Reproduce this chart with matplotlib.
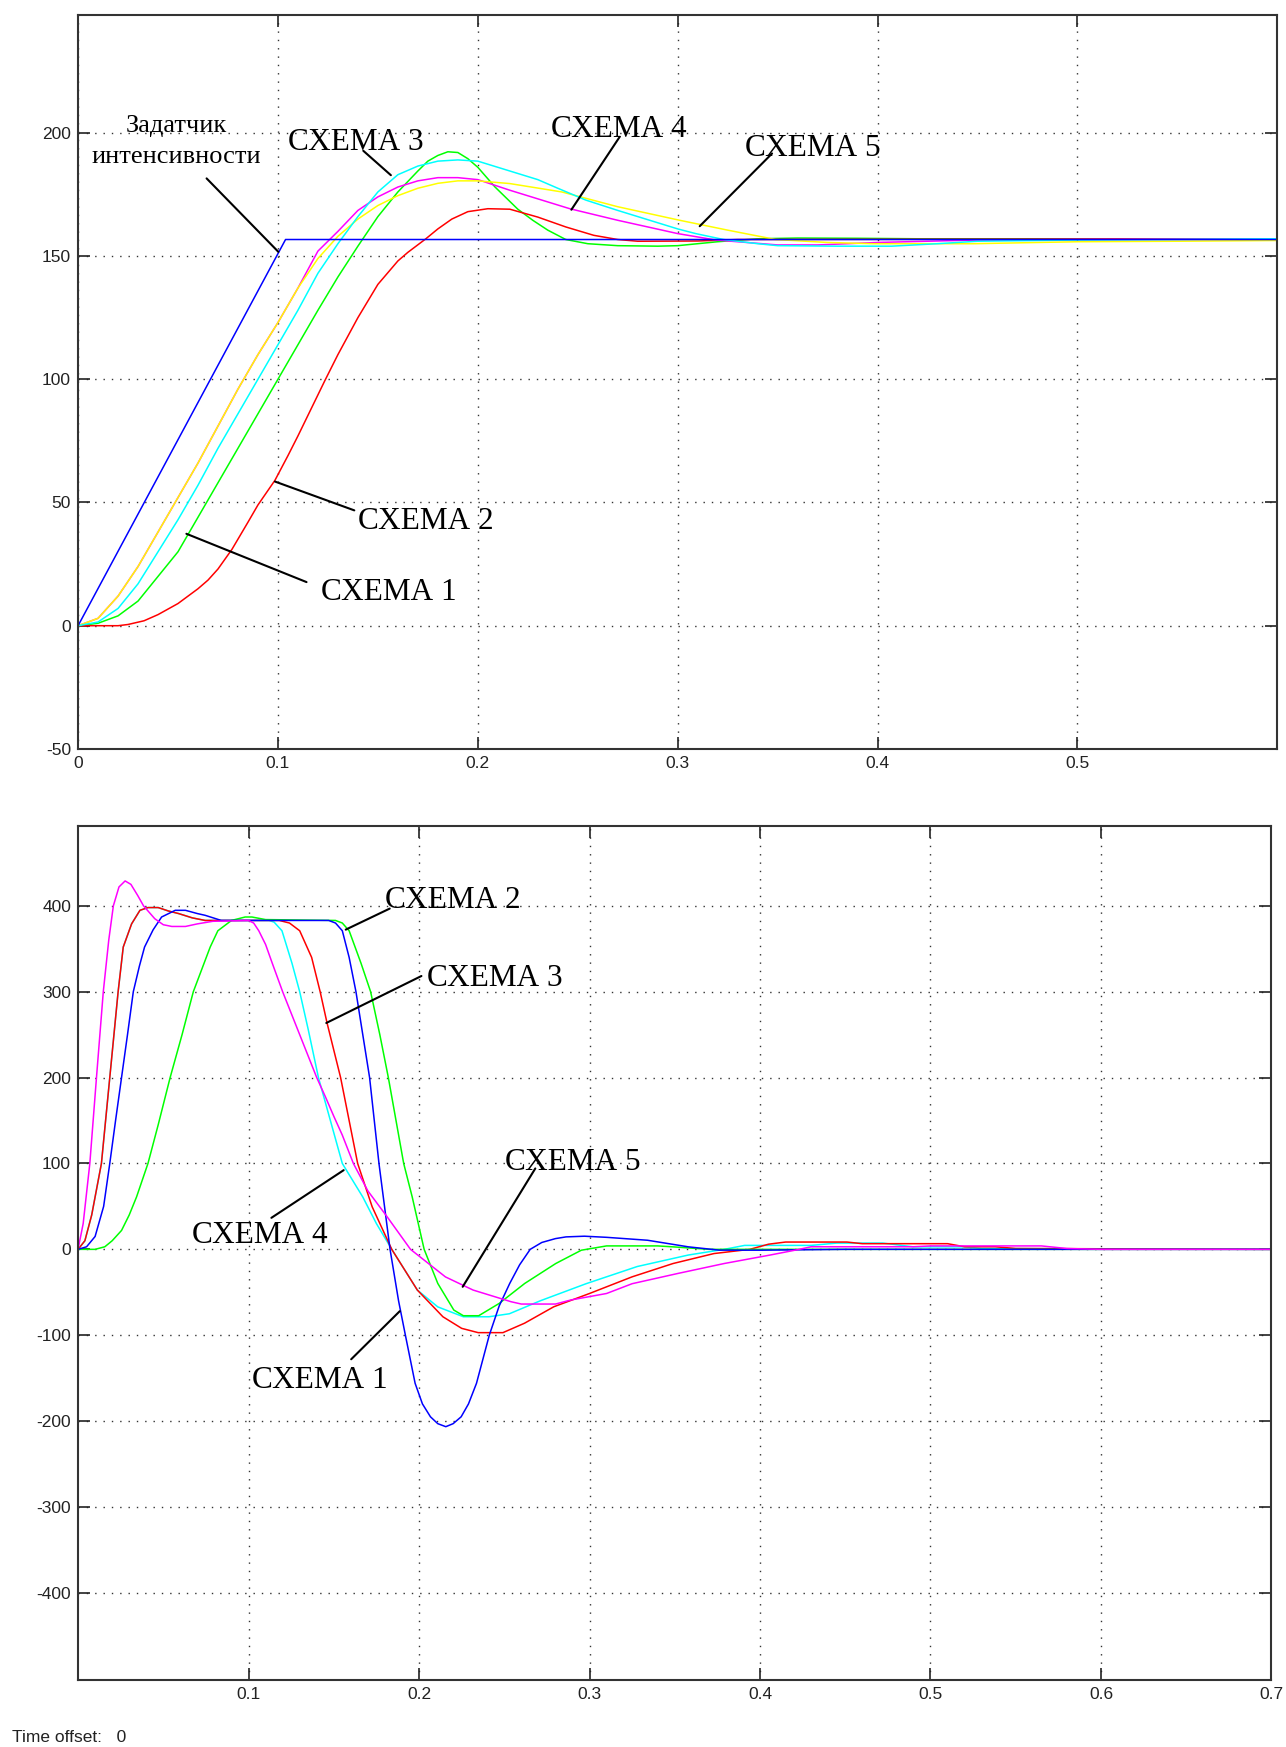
import numpy as np
import matplotlib.pyplot as plt

plt.rcParams['font.family'] = ['Liberation Sans', 'DejaVu Sans']
plt.rcParams['axes.unicode_minus'] = False

# ---- top plot: speed response ----
t_ref = [0, 0.1038, 0.6]
v_ref = [0, 156.7, 156.7]

t_y1 = [0, 0.01, 0.02, 0.03, 0.04, 0.05, 0.06, 0.07, 0.08, 0.09, 0.10, 0.11, 0.12, 0.13, 0.14,
        0.15, 0.16, 0.17, 0.18, 0.19, 0.20, 0.216, 0.242, 0.27, 0.301, 0.325, 0.349, 0.375,
        0.398, 0.448, 0.50, 0.55, 0.60]
v_y1 = [0, 3, 12, 24, 38, 52, 66, 81, 96, 110, 123, 137, 149, 158, 165, 170.5, 174.5, 177.5,
        179.5, 180.5, 180.5, 179.4, 176, 170, 164.5, 160.5, 156.7, 155.5, 155, 155, 155.8, 156, 156.3]

t_c1 = [0, 0.01, 0.02, 0.03, 0.04, 0.05, 0.06, 0.07, 0.08, 0.09, 0.10, 0.11, 0.12, 0.13, 0.14,
        0.15, 0.16, 0.17, 0.18, 0.19, 0.20, 0.21, 0.22, 0.23, 0.24, 0.254, 0.27, 0.286, 0.30,
        0.309, 0.323, 0.34, 0.35, 0.38, 0.407, 0.43, 0.45, 0.50, 0.60]
v_c1 = [0, 1.5, 7, 17, 30, 43, 57, 72, 86, 100, 114, 128, 143, 155, 166, 176, 183, 186.5, 188.5,
        189, 188.5, 186, 183.5, 181, 177.5, 172.7, 168.5, 164.5, 161, 159.1, 156.7, 155, 154.2,
        154, 154, 155, 156, 156.5, 157]

t_m1 = [0, 0.01, 0.02, 0.03, 0.04, 0.05, 0.06, 0.07, 0.08, 0.09, 0.10, 0.11, 0.12, 0.13, 0.14,
        0.15, 0.16, 0.17, 0.18, 0.19, 0.20, 0.216, 0.246, 0.27, 0.30, 0.319, 0.35, 0.37, 0.40,
        0.45, 0.50, 0.60]
v_m1 = [0, 3, 12, 24, 38, 52, 66, 81, 96, 110, 123, 137, 152, 160, 168.5, 174, 178, 180.5,
        181.8, 181.8, 181, 176.7, 169.2, 164.5, 159.1, 156.5, 154.5, 154.5, 155.5, 156.5, 156.7, 157]

t_g1 = [0, 0.01, 0.02, 0.03, 0.04, 0.05, 0.055, 0.06, 0.07, 0.08, 0.09, 0.10, 0.11, 0.12, 0.13,
        0.14, 0.15, 0.16, 0.17, 0.175, 0.18, 0.185, 0.19, 0.195, 0.20, 0.2086, 0.22, 0.2275,
        0.235, 0.244, 0.255, 0.27, 0.29, 0.30, 0.32, 0.34, 0.36, 0.39, 0.42, 0.60]
v_g1 = [0, 1, 4, 10, 20, 30, 37, 44, 58, 72, 86, 100, 114, 128, 141.5, 154, 166, 176, 184.5,
        188.5, 190.8, 192.3, 192, 189.5, 186, 178, 169, 164.5, 160.5, 156.7, 155, 154.2, 154,
        154.2, 155.8, 157, 157.3, 157.2, 157, 157]

t_r1 = [0, 0.02, 0.025, 0.033, 0.04, 0.05, 0.06, 0.065, 0.07, 0.077, 0.085, 0.09, 0.0985,
        0.105, 0.11, 0.1235, 0.13, 0.14, 0.15, 0.16, 0.165, 0.174, 0.18, 0.187, 0.195, 0.205,
        0.216, 0.23, 0.244, 0.258, 0.27, 0.28, 0.31, 0.33, 0.60]
v_r1 = [0, 0, 0.5, 2, 4.5, 9, 15, 18.5, 23, 31, 42, 49, 59, 69, 77, 99.5, 110, 125, 138.5,
        148, 151.5, 157, 161, 165, 168, 169.2, 169, 165.8, 161.8, 158.4, 156.7, 156, 156.1,
        156.7, 157]

# ---- bottom plot: torque response ----
t_b2 = [0, 0.005, 0.01, 0.015, 0.0186, 0.022, 0.0255, 0.029, 0.0324, 0.036, 0.039, 0.044,
        0.049, 0.057, 0.063, 0.07, 0.0745, 0.084, 0.10, 0.147, 0.151, 0.155, 0.159, 0.163,
        0.167, 0.171, 0.1765, 0.183, 0.188, 0.192, 0.1977, 0.202, 0.2067, 0.211, 0.2157, 0.220,
        0.2247, 0.229, 0.2337, 0.2412, 0.247, 0.2532, 0.259, 0.2652, 0.272, 0.28, 0.2862,
        0.297, 0.31, 0.334, 0.358, 0.376, 0.40, 0.45, 0.70]
v_b2 = [0, 3, 15, 50, 100, 150, 200, 250, 300, 330, 352, 372, 387, 394.8, 394.8, 391, 389,
        383, 383, 383, 380, 371, 340, 300, 250, 200, 100, 0, -60, -100, -156, -180, -195, -203,
        -206.5, -203, -195, -180, -156, -100, -66, -39.7, -18, 0, 8, 12.5, 14.5, 15.3, 14, 10.6,
        2.9, -0.9, -1, 0, 0]

t_c2 = [0, 0.004, 0.008, 0.0137, 0.0186, 0.0235, 0.0265, 0.0314, 0.0363, 0.041, 0.047, 0.053,
        0.059, 0.067, 0.0745, 0.112, 0.115, 0.1196, 0.1255, 0.130, 0.135, 0.141, 0.148, 0.155,
        0.167, 0.175, 0.184, 0.199, 0.211, 0.226, 0.241, 0.253, 0.271, 0.298, 0.328, 0.358,
        0.379, 0.391, 0.43, 0.445, 0.472, 0.49, 0.52, 0.53, 0.70]
v_c2 = [0, 10, 40, 100, 200, 300, 352, 379, 394.8, 398, 398, 394, 391, 386, 383, 383, 381,
        371, 333, 300, 256, 200, 150, 100, 61, 30, 0, -47.4, -67, -78.5, -78.5, -75, -60, -40,
        -20, -6.6, 0, 4.6, 4.6, 7.3, 7.3, 2.9, 2.9, 1, 0]

t_r2 = [0, 0.004, 0.008, 0.0137, 0.0186, 0.0235, 0.0265, 0.0314, 0.0363, 0.041, 0.047, 0.053,
        0.059, 0.067, 0.0745, 0.118, 0.124, 0.130, 0.137, 0.142, 0.146, 0.154, 0.164, 0.1725,
        0.184, 0.199, 0.214, 0.225, 0.2347, 0.2492, 0.2619, 0.279, 0.300, 0.325, 0.349, 0.373,
        0.394, 0.405, 0.415, 0.451, 0.46, 0.51, 0.52, 0.538, 0.55, 0.70]
v_r2 = [0, 10, 40, 100, 200, 300, 352, 379, 394.8, 398, 398, 394, 391, 386, 383, 383, 380,
        371, 340, 300, 264, 200, 100, 49.6, 0, -47.4, -78.5, -92, -97, -97, -86, -66.9, -51.4,
        -32, -16.5, -4.9, 0, 6, 8.5, 8.5, 6.6, 6.6, 3, 3, 1, 0]

t_m2 = [0, 0.003, 0.0069, 0.0108, 0.0148, 0.018, 0.0207, 0.024, 0.0276, 0.031, 0.035, 0.0384,
        0.045, 0.05, 0.055, 0.063, 0.07, 0.079, 0.10, 0.103, 0.106, 0.110, 0.114, 0.120, 0.130,
        0.140, 0.145, 0.150, 0.155, 0.1615, 0.170, 0.181, 0.195, 0.2155, 0.2317, 0.254, 0.26,
        0.28, 0.289, 0.31, 0.325, 0.352, 0.379, 0.406, 0.421, 0.43, 0.49, 0.50, 0.565, 0.58,
        0.60, 0.70]
v_m2 = [0, 30, 100, 200, 300, 360, 400, 422, 429, 425, 412, 400, 385, 378, 376, 376, 379, 382,
        383, 380, 371, 355, 332.7, 300, 250, 200, 178, 155, 133, 100, 68, 38.7, 0, -32.1, -47.4,
        -61, -63.7, -63.7, -59, -51.4, -40, -28, -16.5, -6.6, -0.8, 3, 3, 4, 4, 1, 0, 0]

t_g2 = [0, 0.01, 0.0157, 0.02, 0.0255, 0.03, 0.0343, 0.041, 0.047, 0.054, 0.061, 0.0676,
        0.0775, 0.082, 0.090, 0.098, 0.102, 0.11, 0.151, 0.155, 0.159, 0.166, 0.1716, 0.177,
        0.182, 0.191, 0.196, 0.203, 0.211, 0.2204, 0.226, 0.235, 0.247, 0.262, 0.2802, 0.2952,
        0.31, 0.34, 0.349, 0.37, 0.70]
v_g2 = [0, 0, 3, 10, 22, 40, 61, 100, 145, 200, 250, 300, 352, 371, 383, 387, 387, 384, 383,
        380, 371, 333, 300, 250, 200, 100, 61, 0, -39.7, -70.7, -77.3, -77.3, -63, -39.7, -16.5,
        -1, 4, 4, 2.9, 0, 0]

# labels: (text, text x, text y, leader from, leader to)
top_labels = [
    ('СХЕМА 3', 0.1048, 192.95, (0.1427, 192.7), (0.1565, 182.8)),
    ('СХЕМА 4', 0.2367, 198.4, (0.2710, 198.4), (0.2468, 168.8)),
    ('СХЕМА 5', 0.3337, 190.5, (0.3472, 191.6), (0.311, 162.1)),
    ('СХЕМА 2', 0.1399, 39.3, (0.1382, 46.8), (0.0985, 58.5)),
    ('СХЕМА 1', 0.1215, 10.6, (0.1143, 17.7), (0.0542, 37.3)),
]
bottom_labels = [
    ('СХЕМА 2', 0.1799, 397.9, (0.1828, 396.8), (0.157, 372.3)),
    ('СХЕМА 3', 0.2049, 306.7, (0.2014, 318.3), (0.1456, 263.6)),
    ('СХЕМА 4', 0.0669, 6.9, (0.1134, 36.7), (0.1558, 92.2)),
    ('СХЕМА 5', 0.2502, 92.2, (0.2682, 94.2), (0.2256, -43.6)),
    ('СХЕМА 1', 0.102, -161.4, (0.1602, -128), (0.1887, -72)),
]

fig = plt.figure(figsize=(12.86, 17.47), dpi=100)
ax1 = fig.add_axes([0.0607, 0.5713, 0.9326, 0.4204])
ax2 = fig.add_axes([0.0607, 0.0381, 0.9280, 0.4891])

lw = 1.1
for ax in (ax1, ax2):
    ax.grid(True, color='#333333', linestyle=(0, (1, 5)), linewidth=1.0)
    ax.tick_params(direction='in', length=8.5, width=1.2, top=True, right=True,
                   labelsize=12.5, pad=5, colors='#222222')
    for s in ax.spines.values():
        s.set_linewidth(1.5)
        s.set_color('#333333')
    ax.set_axisbelow(True)

ax1.plot(t_g1, v_g1, color='#00ff00', lw=lw)
ax1.plot(t_r1, v_r1, color='#ff0000', lw=lw)
ax1.plot(t_m1, v_m1, color='#ff00ff', lw=lw)
ax1.plot(t_y1, v_y1, color='#ffff00', lw=lw)
ax1.plot(t_c1, v_c1, color='#00ffff', lw=lw)
ax1.plot(t_ref, v_ref, color='#0000ff', lw=lw)
ax1.set_xlim(0, 0.6)
ax1.set_ylim(-50, 248)
ax1.set_xticks([0, 0.1, 0.2, 0.3, 0.4, 0.5])
ax1.set_xticklabels(['0', '0.1', '0.2', '0.3', '0.4', '0.5'])
ax1.set_yticks([-50, 0, 50, 100, 150, 200])

ax2.plot(t_c2, v_c2, color='#00ffff', lw=lw)
ax2.plot(t_r2, v_r2, color='#ff0000', lw=lw)
ax2.plot(t_g2, v_g2, color='#00ff00', lw=lw)
ax2.plot(t_b2, v_b2, color='#0000ff', lw=lw)
ax2.plot(t_m2, v_m2, color='#ff00ff', lw=lw)
ax2.set_xlim(0, 0.7)
ax2.set_ylim(-502, 493)
ax2.set_xticks([0.1, 0.2, 0.3, 0.4, 0.5, 0.6, 0.7])
ax2.set_yticks([-400, -300, -200, -100, 0, 100, 200, 300, 400])

serif = ['Liberation Serif', 'DejaVu Serif']
for ax, labels in ((ax1, top_labels), (ax2, bottom_labels)):
    for txt, tx, ty, p0, p1 in labels:
        ax.text(tx, ty, txt, family=serif, fontsize=22.5, ha='left', va='baseline', zorder=5)
        ax.annotate('', xy=p1, xytext=p0,
                    arrowprops=dict(arrowstyle='-', color='black', lw=1.5,
                                    shrinkA=0, shrinkB=0), zorder=5)

ax1.text(0.0491, 202.7, 'Задатчик', family=serif, fontsize=19, ha='center', va='center')
ax1.text(0.0491, 190.1, 'интенсивности', family=serif, fontsize=19, ha='center', va='center')
ax1.annotate('', xy=(0.1002, 151.7), xytext=(0.0643, 181.5),
             arrowprops=dict(arrowstyle='-', color='black', lw=1.5, shrinkA=0, shrinkB=0))

fig.text(0.009, 0.0057, 'Time offset:   0', fontsize=12.5, color='#222222', va='center')

plt.savefig('out.png', dpi=100)
